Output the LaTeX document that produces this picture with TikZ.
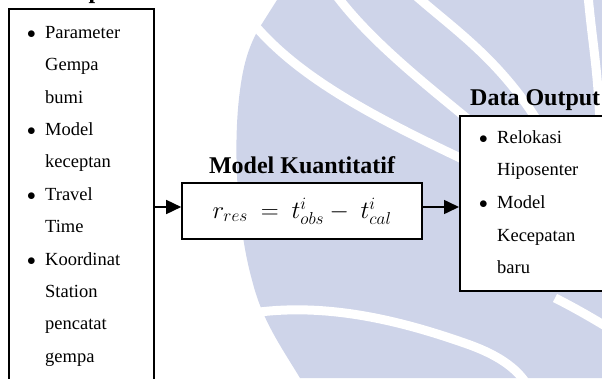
\documentclass[tikz,border=0pt]{standalone}
\usepackage{fontspec}
\setmainfont{Liberation Serif}
\usetikzlibrary{positioning,arrows.meta}

\definecolor{logoblue}{RGB}{206,212,233}
\newcommand{\itm}[1]{\makebox[18pt][l]{$\bullet$}#1}
\newcommand{\cnt}[1]{\hspace*{18pt}#1}

\begin{document}
\begin{tikzpicture}[x=1pt,y=-1pt,
    box/.style={draw, fill=white, line width=1.6pt, inner sep=0pt},
    title/.style={font=\fontsize{24}{28}\selectfont\bfseries, inner sep=0pt},
    list/.style={align=left, inner sep=0pt, anchor=north west},
    gap/.style={white, line width=9pt},
    arr/.style={-{Triangle[length=15pt,width=14pt]}, line width=1.6pt}]
  \useasboundingbox (0,0) rectangle (602,378);

  % watermark
  \begin{scope}
    \clip (0,0) rectangle (602,378);
    \fill[logoblue] (258,30) -- (277,0) -- (602,0) -- (602,378) -- (300,378)
      .. controls (280,345) and (262,320) .. (252,280)
      .. controls (238,230) and (232,150) .. (240,90)
      .. controls (244,60) and (250,45) .. (258,30) -- cycle;
    \draw[gap] (252,22) .. controls (300,80) and (380,120) .. (475,165);
    \draw[gap] (336,-5) .. controls (370,40) and (420,80) .. (475,125);
    \draw[gap] (415,-5) .. controls (455,30) and (500,60) .. (540,125);
    \draw[gap] (588,-5) .. controls (592,40) and (598,70) .. (600,125);
    \draw[gap] (240,315) .. controls (320,300) and (400,320) .. (470,345)
      .. controls (500,356) and (520,370) .. (530,390);
    \draw[gap] (555,298) .. controls (575,308) and (592,318) .. (612,330);
  \end{scope}

  \node[box, anchor=north west, minimum width=145pt, minimum height=400pt] (input) at (8,8) {};
  \node[box, minimum width=240pt, minimum height=56pt] (model) at (302,211)
    {\fontsize{24}{28}\selectfont $r_{res}\ =\ t^{i}_{obs}-\ t^{i}_{cal}$};
  \node[box, anchor=north west, minimum width=180pt, minimum height=175pt] (output) at (459,115) {};

  \node[title, anchor=base] (inputtitle) at (67,-2) {Data Input};
  \node[title, above=9pt of model, anchor=base] (modeltitle) {Model Kuantitatif};
  \node[title, above=10pt of output.north west, anchor=base west, xshift=11pt] (outputtitle) {Data Output};

  \node[list, font=\fontsize{18.5}{32.4}\selectfont] (inputlist) at (27,26)
    {\itm{Parameter}\\ \cnt{Gempa}\\ \cnt{bumi}\\ \itm{Model}\\ \cnt{keceptan}\\
     \itm{Travel}\\ \cnt{Time}\\ \itm{Koordinat}\\ \cnt{Station}\\ \cnt{pencatat}\\ \cnt{gempa}};
  \node[list, font=\fontsize{18.5}{32.7}\selectfont] (outputlist) at (479,130)
    {\itm{Relokasi}\\ \cnt{Hiposenter}\\ \itm{Model}\\ \cnt{Kecepatan}\\ \cnt{baru}};

  \draw[arr] ([yshift=4pt]model.west -| input.east) -- ([yshift=4pt]model.west);
  \draw[arr] ([yshift=4pt]model.east) -- ([yshift=4pt]model.east -| output.west);
\end{tikzpicture}
\end{document}
